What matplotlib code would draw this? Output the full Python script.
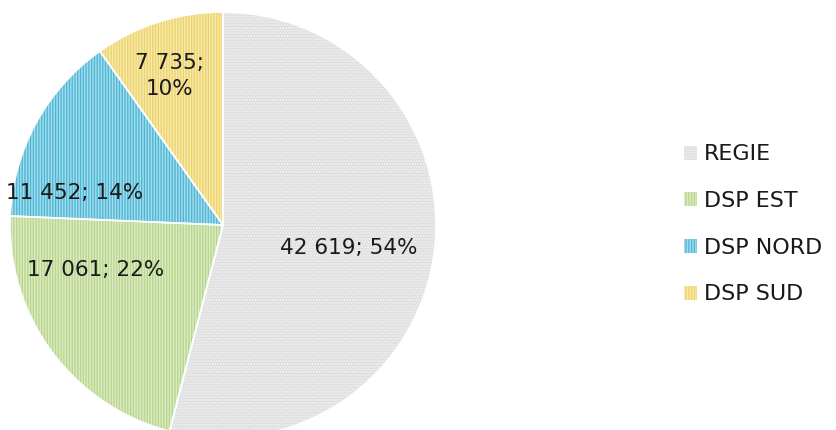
import matplotlib.pyplot as plt

# données
categories = ['REGIE', 'DSP EST', 'DSP NORD', 'DSP SUD']
values = [42619, 17061, 11452, 7735]
pct_labels = ['54%', '22%', '14%', '10%']

base_colors = ['#dedede', '#b8d68e', '#4db8d6', '#ecd36a']
stripe_colors = ['#f4f4f4', '#dcebc4', '#a6dcec', '#f8eab0']
hatches = ['......', '||||||', '||||||', '||||||']

plt.rcParams['font.family'] = ['DejaVu Sans']
plt.rcParams['hatch.linewidth'] = 1.0

fig = plt.figure(figsize=(8.37, 4.30), dpi=100)
ax = fig.add_axes([10 / 837, (430 - 225 - 213) / 430, 426 / 837, 426 / 430])

wedges, _ = ax.pie(values, startangle=90, counterclock=False, radius=1.0,
                   colors=base_colors, wedgeprops=dict(linewidth=0))
for w, sc, h in zip(wedges, stripe_colors, hatches):
    w.set_edgecolor(sc)
    w.set_hatch(h)

# bordure blanche entre les secteurs
ax.pie(values, startangle=90, counterclock=False, radius=1.0,
       colors=['none'] * 4, wedgeprops=dict(linewidth=1.2, edgecolor='white'))

ax.set_xlim(-1, 1)
ax.set_ylim(-1, 1)
ax.set_aspect('equal')

# positions des étiquettes (style Excel)
label_pos = [(0.59, -0.11), (-0.60, -0.21), (-0.695, 0.15), (-0.25, 0.70)]
for i, (x, y) in enumerate(label_pos):
    v = f'{values[i]:,}'.replace(',', ' ')
    if categories[i] == 'DSP SUD':
        txt = f'{v};\n{pct_labels[i]}'
    else:
        txt = f'{v}; {pct_labels[i]}'
    ax.text(x, y, txt, ha='center', va='center', fontsize=15.5,
            color='#1a1a1a', linespacing=1.4)

leg = fig.legend(wedges, categories, loc='center left',
                 bbox_to_anchor=(664 / 837, (430 - 224.5) / 430),
                 frameon=False, fontsize=16, handlelength=0.6,
                 handleheight=0.6, handletextpad=0.3, labelspacing=1.2)
for t in leg.get_texts():
    t.set_color('#1a1a1a')

fig.savefig('out.png', dpi=100)
